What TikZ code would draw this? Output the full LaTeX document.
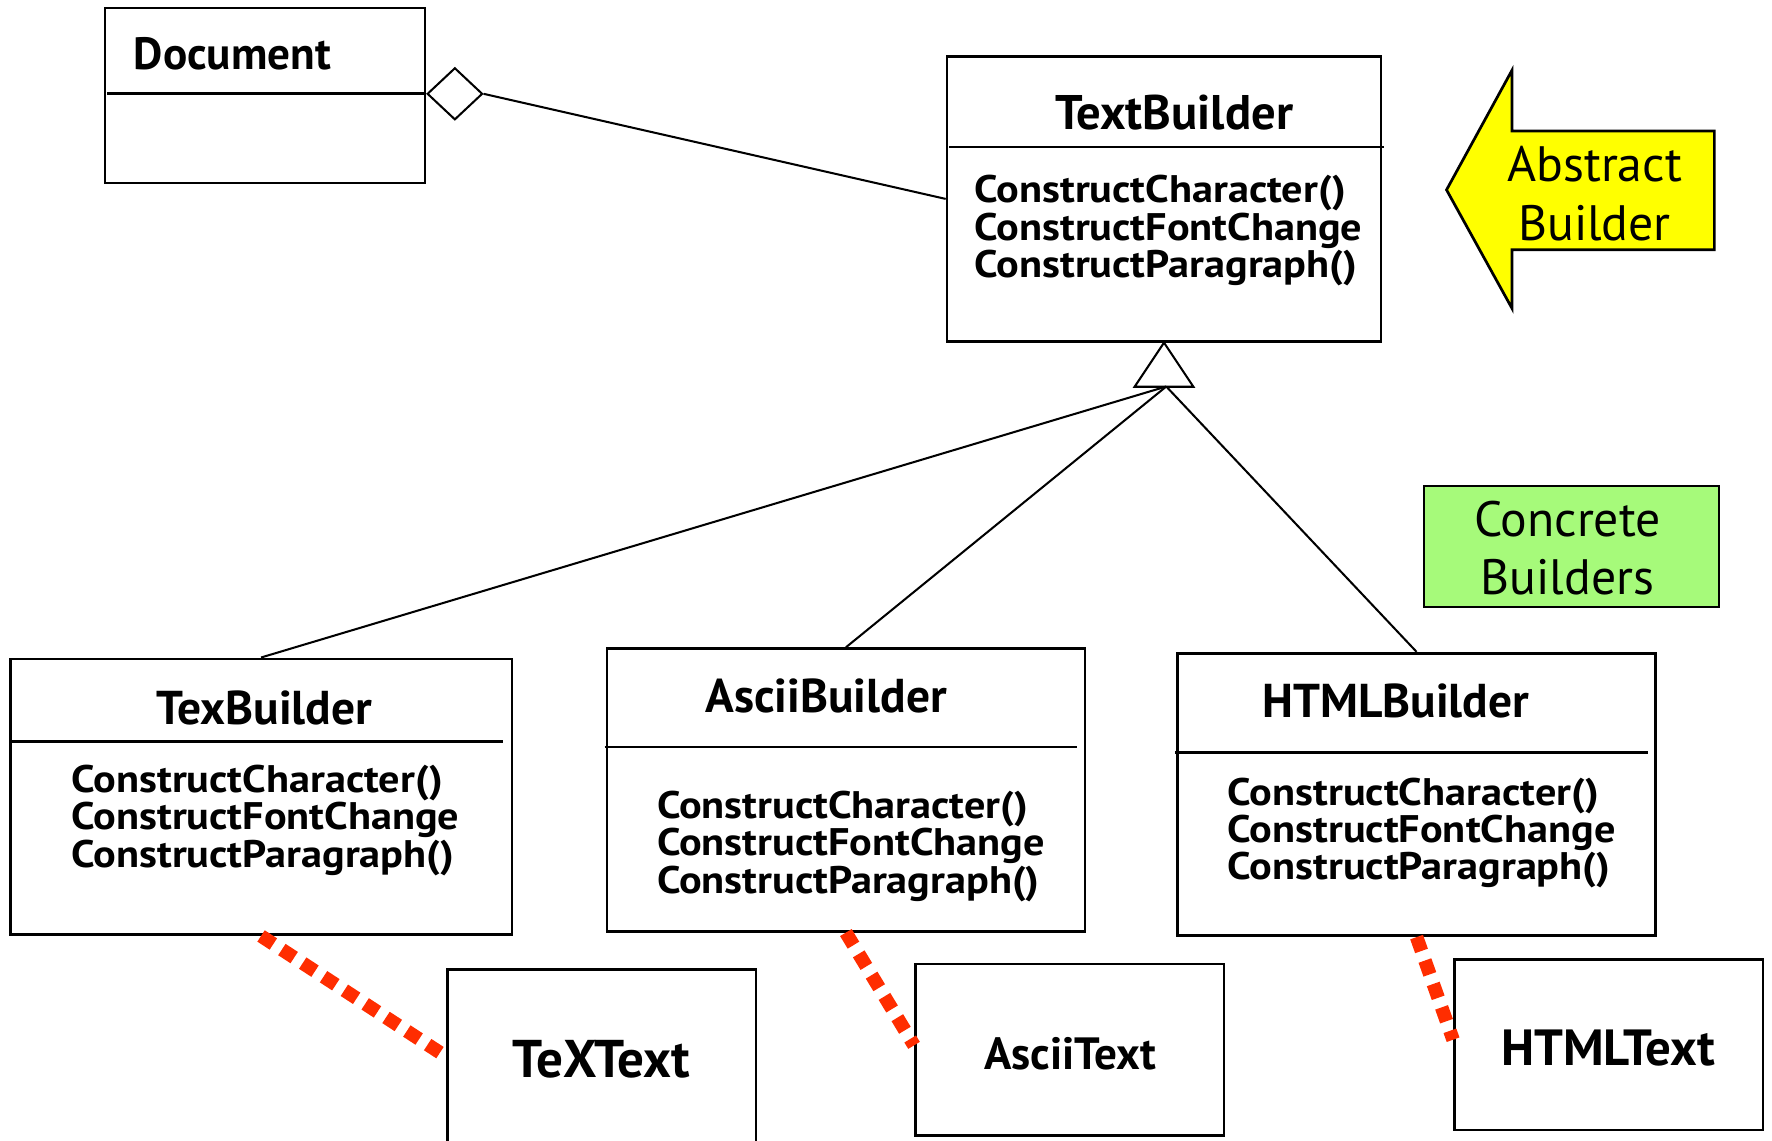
\documentclass[tikz,border=0pt]{standalone}
\usepackage{fontspec}
\setmainfont{PT Sans}
\newfontfamily\methodfont[FakeStretch=1.1]{PT Sans}
\usetikzlibrary{shapes.geometric,fit}
\definecolor{dotred}{RGB}{255,45,0}
\definecolor{notegreen}{RGB}{166,250,122}
\definecolor{noteyellow}{RGB}{255,255,0}
\newcommand\mytightlines{\lineskiplimit=-30pt\relax\lineskip=0pt\relax}
\tikzset{
 classbox/.style={draw, line width=1.2pt, inner sep=0pt},
 divider/.style={line width=1.2pt},
 title/.style={font=\bfseries\fontsize{#1}{22}\selectfont, inner sep=0pt},
 title/.default=21,
 methods/.style={font=\methodfont\bfseries\fontsize{17}{16.4}\selectfont\mytightlines, align=left, inner sep=0pt, anchor=west},
 link/.style={line width=0.9pt},
 realize/.style={draw=dotred, line width=6pt, dash pattern=on 6.5pt off 4.5pt},
 note/.style={font=\fontsize{22}{26}\selectfont, align=center, inner sep=0pt},
}
\begin{document}
\begin{tikzpicture}[x=0.5pt,y=-0.5pt]
\useasboundingbox (0,0) rectangle (1568,1009);
% Document
\node[classbox, fit={(93,7)(376,162)}] (doc) {};
\draw[divider] (95,83) -- (376,83);
\node[title=20, anchor=west] (doct) at (118,48) {Document};
% TextBuilder
\node[classbox, fit={(838,50)(1222,302)}] (tb) {};
\draw[divider] (840,130) -- (1225,130);
\node[title=21.5] (tbt) at (1039,100) {TextBuilder};
\node[methods] (tbm) at (862,204) {ConstructCharacter()\\ConstructFontChange\\ConstructParagraph()};
% aggregation
\node[draw, diamond, inner sep=0pt, minimum width=24.5pt, minimum height=23pt, line width=0.9pt] (agg) at (402.5,83) {};
\draw[link] (agg.east) -- (tb.west |- 0,176);
% generalization
\draw[link] (tb.south) -- ++(-26,39) -- ++(52,0) -- cycle;
\coordinate (gen) at (1032,342);
% concrete builders
\node[classbox, fit={(9,583)(453,827)}] (texb) {};
\draw[divider] (9,656) -- (445,656);
\node[title] (texbt) at (234,626) {TexBuilder};
\node[methods] (texbm) at (63,726) {ConstructCharacter()\\ConstructFontChange\\ConstructParagraph()};

\node[classbox, fit={(537,574)(960,824)}] (ascb) {};
\draw[divider] (535,661) -- (953,661);
\node[title] (ascbt) at (731,616) {AsciiBuilder};
\node[methods] (ascbm) at (581,749) {ConstructCharacter()\\ConstructFontChange\\ConstructParagraph()};

\node[classbox, fit={(1042,578)(1465,828)}] (htmlb) {};
\draw[divider] (1040,666) -- (1458,666);
\node[title] (htmlbt) at (1235,620) {HTMLBuilder};
\node[methods] (htmlbm) at (1086,737) {ConstructCharacter()\\ConstructFontChange\\ConstructParagraph()};

\draw[link] (gen) -- (texb.north);
\draw[link] (gen) -- (ascb.north);
\draw[link] (gen) -- (htmlb.north);
% products
\node[classbox, fit={(396,858)(669,1015)}] (text) {};
\node[title=23.5] (textt) at (532,937) {TeXText};
\node[classbox, fit={(810,853)(1083,1005)}] (asct) {};
\node[title=20] (asctt) at (947,932) {AsciiText};
\node[classbox, fit={(1287,849)(1560,1000)}] (htmlt) {};
\node[title=22.5] (htmltt) at (1423,927) {HTMLText};
\draw[realize] (texb.south) -- (text.west |- 0,935);
\draw[realize] (ascb.south) -- (asct.west |- 0,925);
\draw[realize] (htmlb.south) -- (htmlt.west |- 0,920);
% notes
\draw[line width=1.2pt, fill=noteyellow] (1280,168) -- (1338,62) -- (1338,116) -- (1517,116) -- (1517,221) -- (1338,221) -- (1338,273) -- cycle;
\node[note] (ab) at (1411,171) {Abstract\\Builder};
\node[classbox, fill=notegreen, fit={(1260,430)(1521,537)}] (cbbox) {};
\node[note] (cb) at (1387,485) {Concrete\\Builders};
\end{tikzpicture}
\end{document}
